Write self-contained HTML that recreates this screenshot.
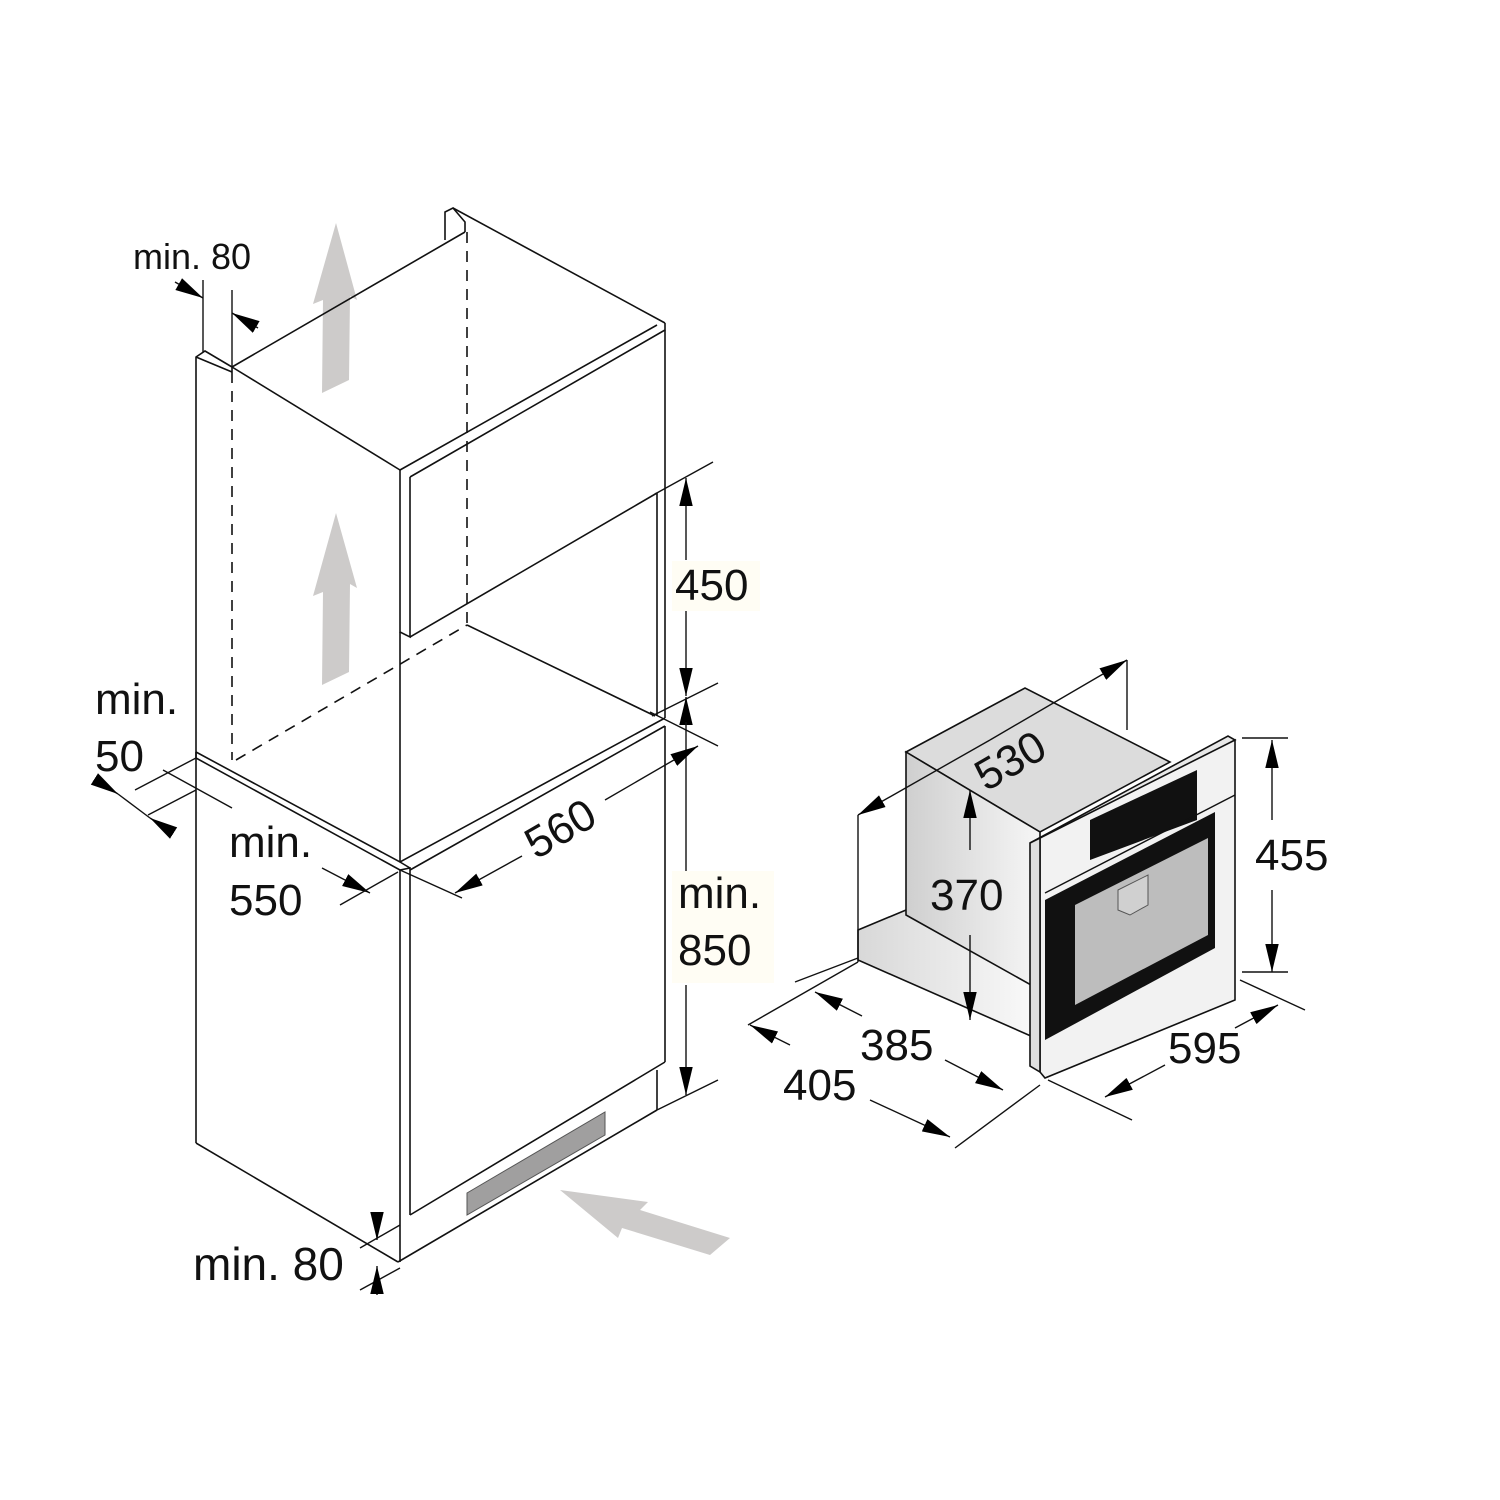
<!DOCTYPE html>
<html><head><meta charset="utf-8"><style>
html,body{margin:0;padding:0;background:#fff}
svg{display:block}
text{font-family:"Liberation Sans",Arial,sans-serif;fill:#111}
</style></head><body>
<svg width="1500" height="1500" viewBox="0 0 1500 1500" xmlns="http://www.w3.org/2000/svg">
<defs>
<marker id="b" viewBox="0 0 10 10" refX="10" refY="5" markerWidth="28" markerHeight="28" markerUnits="userSpaceOnUse" orient="auto-start-reverse">
<path d="M0,2.6 L10,5 L0,7.4 z" fill="#000"/></marker>
<linearGradient id="g1" x1="0" y1="0" x2="1" y2="0"><stop offset="0" stop-color="#cfcfcf"/><stop offset="1" stop-color="#f6f6f6"/></linearGradient>
<linearGradient id="g2" x1="0" y1="0" x2="1" y2="0"><stop offset="0" stop-color="#d8d8d8"/><stop offset="1" stop-color="#fafafa"/></linearGradient>
</defs>

<g fill="#cdcbca">
<polygon points="336,223 357,300 350,296 349,380 322,393 323,300 313,304"/>
<polygon points="336,513 357,588 350,584 349,672 322,685 323,592 313,596"/>
<polygon points="560,1190 648,1202 640,1210 730,1238 710,1255 622,1228 618,1238"/>
</g>

<g stroke="#111" stroke-width="1.6" fill="none">
<polyline points="196,1143 196,357 205,351 232,367 232,372"/>
<line x1="196" y1="357" x2="232" y2="372"/>
<line x1="232" y1="367" x2="465" y2="232"/>
<polyline points="445,240 445,212 453,208 465,222 465,232"/>
<line x1="453" y1="208" x2="665" y2="323"/>
<polyline points="665,323 665,330 410,477"/>
<line x1="232" y1="367" x2="400" y2="470"/>
<line x1="400" y1="470" x2="657" y2="325"/>
<line x1="665" y1="330" x2="665" y2="718"/>
<polyline points="400,470 400,632 410,637 410,477"/>
<line x1="410" y1="637" x2="657" y2="493"/>
<line x1="657" y1="493" x2="657" y2="716"/>
<line x1="467" y1="625" x2="655" y2="716"/>
<line x1="400" y1="632" x2="400" y2="862"/>
<g stroke-dasharray="11,8">
<line x1="232" y1="372" x2="232" y2="760"/>
<line x1="467" y1="232" x2="467" y2="625"/>
<line x1="236" y1="760" x2="467" y2="625"/>
</g>
<polyline points="196,752 400,862 665,718"/>
<polyline points="196,752 196,758 400,870 410,868 410,1215"/>
<line x1="400" y1="862" x2="410" y2="868"/>
<line x1="410" y1="870" x2="665" y2="726"/>
<line x1="665" y1="726" x2="665" y2="1062"/>
<line x1="400" y1="870" x2="400" y2="1262"/>
<line x1="410" y1="1215" x2="665" y2="1062"/>
<line x1="196" y1="1143" x2="398" y2="1262"/>
<line x1="398" y1="1262" x2="657" y2="1110"/>
<line x1="657" y1="1070" x2="657" y2="1110"/>
</g>
<polygon points="467,1193 605,1112 605,1135 467,1215" fill="#a09f9f" stroke="#555" stroke-width="1"/>

<g stroke="#111" stroke-width="1.4" fill="none">
<line x1="203" y1="280" x2="203" y2="352"/>
<line x1="232" y1="290" x2="232" y2="367"/>
<line x1="175" y1="282" x2="203" y2="298" marker-end="url(#b)"/>
<line x1="258" y1="328" x2="232" y2="313" marker-end="url(#b)"/>
<line x1="655" y1="494" x2="713" y2="462"/>
<line x1="652" y1="716" x2="718" y2="683"/>
<line x1="650" y1="712" x2="718" y2="746"/>
<line x1="686" y1="560" x2="686" y2="478" marker-end="url(#b)"/>
<line x1="686" y1="610" x2="686" y2="696" marker-end="url(#b)"/>
<line x1="686" y1="722" x2="686" y2="697" marker-end="url(#b)"/>
<line x1="686" y1="722" x2="686" y2="872"/>
<line x1="686" y1="985" x2="686" y2="1095" marker-end="url(#b)"/>
<line x1="657" y1="1110" x2="718" y2="1080"/>
<line x1="400" y1="870" x2="462" y2="898"/>
<line x1="522" y1="856" x2="455" y2="893" marker-end="url(#b)"/>
<line x1="605" y1="800" x2="698" y2="746" marker-end="url(#b)"/>
<line x1="163" y1="770" x2="232" y2="808"/>
<line x1="322" y1="868" x2="370" y2="893" marker-end="url(#b)"/>
<line x1="340" y1="905" x2="398" y2="872"/>
<line x1="135" y1="790" x2="196" y2="758"/>
<line x1="148" y1="815" x2="196" y2="790"/>
<line x1="96" y1="780" x2="118" y2="794" marker-end="url(#b)"/>
<line x1="172" y1="832" x2="150" y2="818" marker-end="url(#b)"/>
<line x1="118" y1="794" x2="150" y2="818"/>
<line x1="360" y1="1248" x2="400" y2="1225"/>
<line x1="360" y1="1290" x2="400" y2="1268"/>
<line x1="377" y1="1212" x2="377" y2="1240" marker-end="url(#b)"/>
<line x1="377" y1="1295" x2="377" y2="1266" marker-end="url(#b)"/>
</g>

<g stroke="#111" stroke-width="1.6">
<polygon points="858,930 906,910 1040,985 1040,1040 858,960" fill="url(#g2)"/>
<polygon points="906,752 1025,688 1170,762 1040,832" fill="#dcdcdc"/>
<polygon points="906,752 1040,832 1040,990 906,915" fill="url(#g1)"/>
<polygon points="1030,843 1228,736 1235,740 1045,842" fill="#e8e8e8"/>
<polygon points="1040,838 1235,740 1235,1000 1045,1078 1040,1072" fill="#f2f2f2"/>
<polygon points="1030,843 1040,838 1040,1072 1030,1066" fill="#e0e0e0"/>
</g>
<polygon points="1090,820 1197,770 1197,820 1090,860" fill="#111"/>
<polygon points="1045,900 1215,812 1215,948 1045,1040" fill="#111"/>
<polygon points="1075,905 1208,838 1208,935 1075,1005" fill="#bdbdbd"/>
<polygon points="1118,890 1148,875 1148,905 1130,915 1118,910" fill="#d0d0d0" stroke="#555" stroke-width="1"/>
<g stroke="#111" stroke-width="1.4" fill="none">
<line x1="1045" y1="893" x2="1235" y2="795"/>
<line x1="858" y1="815" x2="858" y2="962"/>
<line x1="1127" y1="660" x2="1127" y2="730"/>
<line x1="990" y1="740" x2="858" y2="815" marker-end="url(#b)"/>
<line x1="990" y1="740" x2="1127" y2="660" marker-end="url(#b)"/>
<line x1="970" y1="850" x2="970" y2="790" marker-end="url(#b)"/>
<line x1="970" y1="935" x2="970" y2="1020" marker-end="url(#b)"/>
<line x1="1242" y1="738" x2="1288" y2="738"/>
<line x1="1242" y1="972" x2="1288" y2="972"/>
<line x1="1272" y1="820" x2="1272" y2="740" marker-end="url(#b)"/>
<line x1="1272" y1="890" x2="1272" y2="972" marker-end="url(#b)"/>
<line x1="1048" y1="1080" x2="1132" y2="1120"/>
<line x1="1240" y1="980" x2="1305" y2="1010"/>
<line x1="1165" y1="1065" x2="1105" y2="1097" marker-end="url(#b)"/>
<line x1="1235" y1="1028" x2="1278" y2="1005" marker-end="url(#b)"/>
<line x1="795" y1="982" x2="858" y2="958"/>
<line x1="748" y1="1025" x2="858" y2="962"/>
<line x1="955" y1="1148" x2="1040" y2="1085"/>
<line x1="862" y1="1016" x2="815" y2="992" marker-end="url(#b)"/>
<line x1="945" y1="1060" x2="1003" y2="1090" marker-end="url(#b)"/>
<line x1="790" y1="1045" x2="750" y2="1025" marker-end="url(#b)"/>
<line x1="870" y1="1100" x2="950" y2="1137" marker-end="url(#b)"/>
</g>

<rect x="672" y="561" width="88" height="50" fill="#fffdf4"/>
<rect x="672" y="871" width="102" height="112" fill="#fffdf4"/>
<g font-size="44">
<text x="133" y="269" font-size="36">min. 80</text>
<text x="675" y="600">450</text>
<text x="678" y="908">min.</text>
<text x="678" y="965">850</text>
<text x="95" y="714">min.</text>
<text x="95" y="771">50</text>
<text x="229" y="857">min.</text>
<text x="229" y="915">550</text>
<text x="193" y="1280" font-size="46">min. 80</text>
<text x="0" y="0" transform="translate(536,860) rotate(-30)">560</text>
<text x="0" y="0" transform="translate(986,792) rotate(-30)">530</text>
<text x="930" y="910">370</text>
<text x="1255" y="870">455</text>
<text x="1168" y="1063">595</text>
<text x="860" y="1060">385</text>
<text x="783" y="1100">405</text>
</g>
</svg>
</body></html>
